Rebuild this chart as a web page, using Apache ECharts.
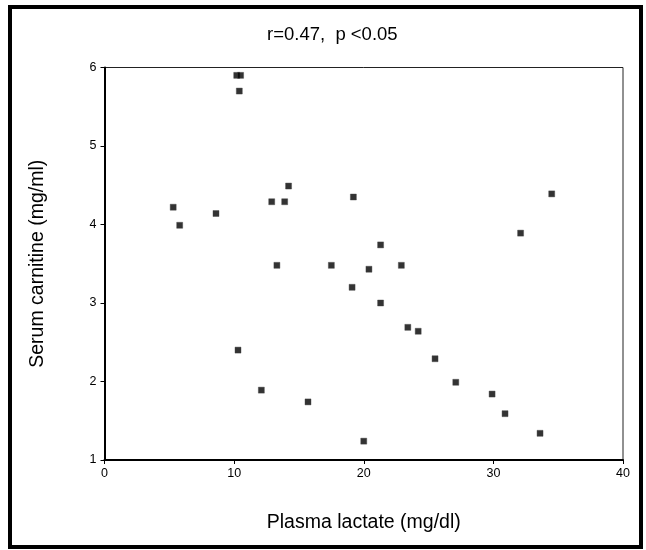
<!DOCTYPE html>
<html>
<head>
<meta charset="utf-8">
<script src="https://cdn.jsdelivr.net/npm/echarts@6/dist/echarts.min.js"></script>
<style>
  html, body { margin: 0; padding: 0; background: #fff; }
  #chart { width: 646px; height: 550px; }
</style>
</head>
<body>
<div id="chart"></div>
<script>
// plasma lactate (mg/dl)
var lactate = [5.3, 5.8, 8.6, 10.2, 10.5, 10.4, 12.9, 13.9, 14.2, 13.3,
               17.5, 19.2, 19.1, 34.5, 32.1, 21.3, 20.4, 22.9, 21.3, 10.3,
               12.1, 15.7, 23.4, 24.2, 25.5, 27.1, 29.9, 30.9, 33.6, 20.0];
// serum carnitine (mg/ml)
var carnitine = [4.22, 3.99, 4.14, 5.9, 5.9, 5.7, 4.29, 4.29, 4.49, 3.48,
                 3.48, 4.35, 3.2, 4.39, 3.89, 3.74, 3.43, 3.48, 3.0, 2.4,
                 1.89, 1.74, 2.69, 2.64, 2.29, 1.99, 1.84, 1.59, 1.34, 1.24];
var xTicks = [0, 10, 20, 30, 40];
var yTicks = [1, 2, 3, 4, 5, 6];

var points = [];
for (var i = 0; i < lactate.length; i++) {
    points.push([lactate[i], carnitine[i]]);
}

var myChart = echarts.init(document.getElementById('chart'));
var font = 'Liberation Sans, Arial, sans-serif';

var option = {
    backgroundColor: '#fff',
    animation: false,
    title: {
        text: 'r=0.47,  p <0.05',
        left: 262,
        top: 20,
        textStyle: { fontFamily: font, fontSize: 18.5, fontWeight: 'normal', color: '#000' }
    },
    grid: {
        left: 104.5, right: 23, top: 67.5, bottom: 90,
        show: true, borderColor: '#222', borderWidth: 1
    },
    xAxis: {
        type: 'value',
        min: xTicks[0], max: xTicks[xTicks.length - 1], interval: 10,
        name: 'Plasma lactate (mg/dl)',
        nameLocation: 'middle', nameGap: 53,
        nameTextStyle: { fontFamily: font, fontSize: 19.5, color: '#000' },
        axisLine: { show: true, lineStyle: { color: '#000', width: 2 } },
        axisTick: { show: true, length: 4, lineStyle: { color: '#000', width: 1 } },
        axisLabel: { fontFamily: font, fontSize: 12.5, color: '#000', margin: 7 },
        splitLine: { show: false }
    },
    yAxis: {
        type: 'value',
        min: yTicks[0], max: yTicks[yTicks.length - 1], interval: 1,
        name: 'Serum carnitine (mg/ml)',
        nameLocation: 'middle', nameGap: 57,
        nameTextStyle: { fontFamily: font, fontSize: 19.5, color: '#000' },
        axisLine: { show: true, lineStyle: { color: '#000', width: 2 } },
        axisTick: { show: true, length: 4, lineStyle: { color: '#000', width: 1 } },
        axisLabel: { fontFamily: font, fontSize: 12.5, color: '#000', margin: 8 },
        splitLine: { show: false }
    },
    series: [
        {
            type: 'scatter',
            data: points,
            symbol: 'rect',
            symbolSize: 6,
            itemStyle: { color: '#000', borderColor: '#444', borderWidth: 0.5 }
        }
    ],
    graphic: [
        {
            type: 'rect',
            shape: { x: 10, y: 7, width: 631, height: 540 },
            style: { fill: 'none', stroke: '#000', lineWidth: 4 },
            silent: true
        }
    ]
};
option && myChart.setOption(option);
</script>
</body>
</html>
